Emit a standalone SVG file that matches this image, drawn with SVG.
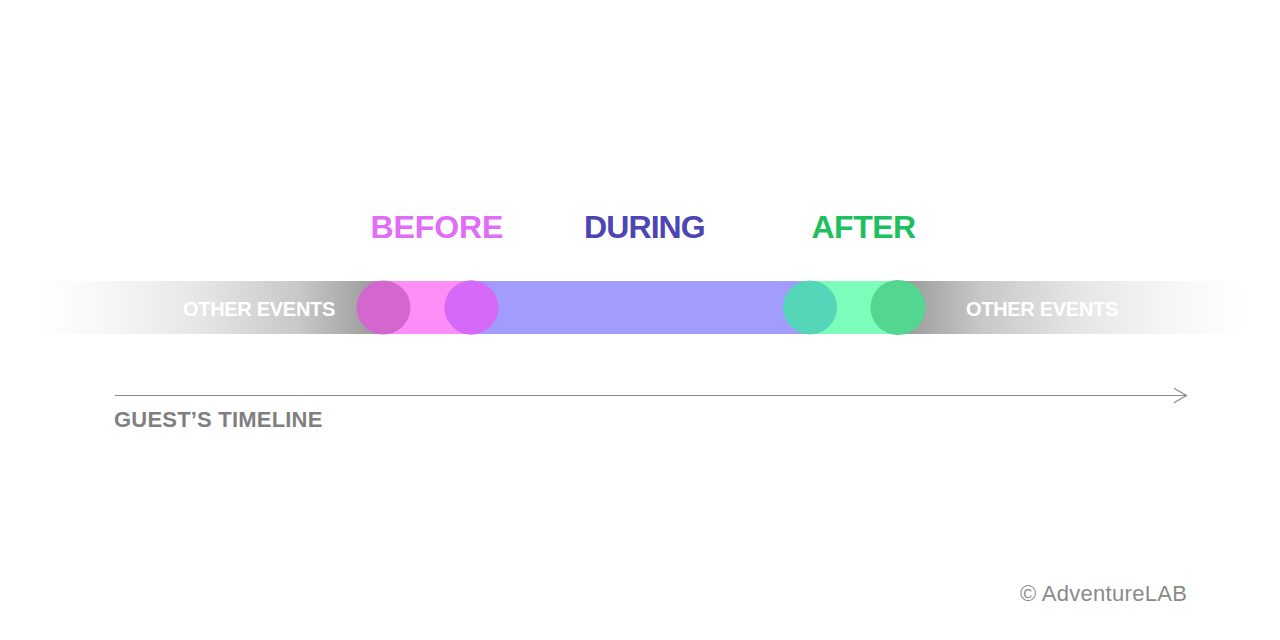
<svg xmlns="http://www.w3.org/2000/svg" width="1280" height="640" viewBox="0 0 1280 640">
  <style>
    .phase { font-family: "Liberation Sans", Arial, sans-serif; font-weight: bold; font-size: 32px; }
    .other { font-family: "Liberation Sans", Arial, sans-serif; font-weight: bold; font-size: 20px; letter-spacing: -0.3px; fill: #ffffff; }
    .axis-label { font-family: "Liberation Sans", Arial, sans-serif; font-weight: bold; font-size: 22px; letter-spacing: 0.2px; fill: #7f7f7f; }
    .credit { font-family: "Liberation Sans", Arial, sans-serif; font-size: 22px; letter-spacing: 0.3px; fill: #8a8a8a; }
    .axis { fill: none; stroke: #8a8a8a; stroke-width: 1.2; }
  </style>
  <defs>
    <linearGradient id="fadeLeft" gradientUnits="userSpaceOnUse" x1="30" y1="0" x2="384" y2="0">
      <stop offset="0" stop-color="#ffffff"/>
      <stop offset="0.2" stop-color="#f8f8f8"/>
      <stop offset="0.48" stop-color="#e6e6e6"/>
      <stop offset="0.76" stop-color="#c8c8c8"/>
      <stop offset="1" stop-color="#969696"/>
    </linearGradient>
    <linearGradient id="fadeRight" gradientUnits="userSpaceOnUse" x1="897" y1="0" x2="1250" y2="0">
      <stop offset="0" stop-color="#969696"/>
      <stop offset="0.24" stop-color="#c8c8c8"/>
      <stop offset="0.52" stop-color="#e6e6e6"/>
      <stop offset="0.8" stop-color="#f8f8f8"/>
      <stop offset="1" stop-color="#ffffff"/>
    </linearGradient>
  </defs>
  <rect width="1280" height="640" fill="#ffffff"/>

  <g id="other-events-left">
    <rect x="30" y="281" width="354" height="53" fill="url(#fadeLeft)"/>
    <text class="other" x="183" y="315.5">OTHER EVENTS</text>
  </g>

  <g id="other-events-right">
    <rect x="897" y="281" width="353" height="53" fill="url(#fadeRight)"/>
    <text class="other" x="966" y="315.5">OTHER EVENTS</text>
  </g>

  <g id="before">
    <rect x="383" y="281" width="89" height="53" fill="#fd8ef7"/>
    <circle cx="383.5" cy="307.5" r="27" fill="#d466d0"/>
    <circle cx="471.5" cy="307.5" r="27" fill="#d66af8"/>
    <text class="phase" x="370.5" y="238.3" fill="#e06cf7" letter-spacing="-0.1">BEFORE</text>
  </g>

  <g id="during">
    <rect x="471" y="281" width="340" height="53" fill="#a29cfd"/>
    <circle cx="471.5" cy="307.5" r="27" fill="#d66af8"/>
    <text class="phase" x="584" y="238.3" fill="#4e45b5" letter-spacing="-0.9">DURING</text>
  </g>

  <g id="after">
    <rect x="810" y="281" width="88" height="53" fill="#7dfdbb"/>
    <circle cx="810" cy="307.5" r="27" fill="#55d6b8"/>
    <circle cx="898" cy="307.5" r="27.5" fill="#52d690"/>
    <text class="phase" x="811.5" y="238.3" fill="#1dbf5e" letter-spacing="-0.5">AFTER</text>
  </g>

  <g id="connectors">
    <line class="axis" x1="115" y1="395.5" x2="1186.5" y2="395.5"/>
    <polyline class="axis" points="1174,388.3 1186.5,395.5 1174,402.7"/>
  </g>

  <g id="timeline-label">
    <text class="axis-label" x="114" y="426.7">GUEST’S TIMELINE</text>
  </g>

  <g id="credit">
    <text class="credit" x="1020" y="601">© AdventureLAB</text>
  </g>
</svg>
